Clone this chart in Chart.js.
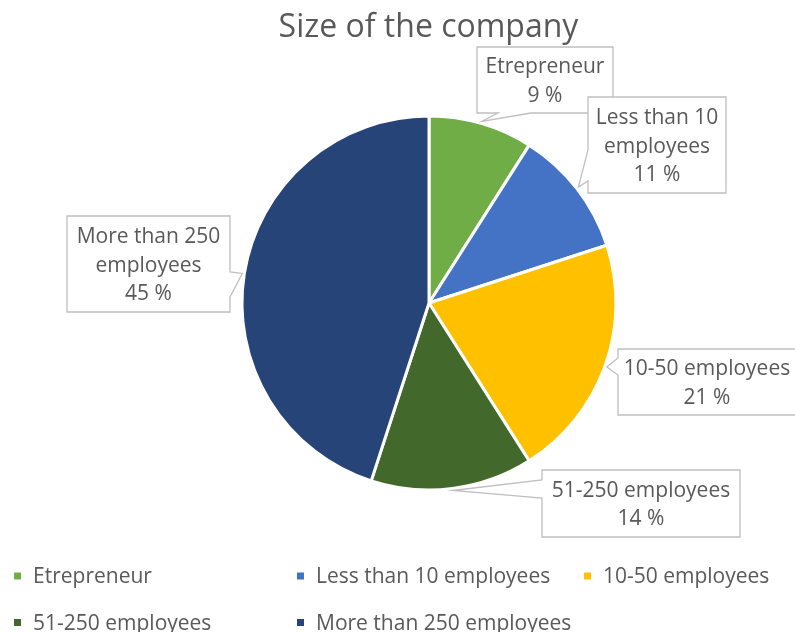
<!DOCTYPE html>
<html>
<head>
<meta charset="utf-8">
<script src="https://cdn.jsdelivr.net/npm/chart.js@4/dist/chart.umd.min.js"></script>
<style>
  html, body { margin: 0; padding: 0; background: #ffffff; }
  #wrap { width: 795px; height: 632px; }
</style>
</head>
<body>
<div id="wrap"><canvas id="pie" width="795" height="632"></canvas></div>
<script>
// Company size breakdown
const chartTitle = 'Size of the company';
const categories = ['Etrepreneur', 'Less than 10 employees', '10-50 employees', '51-250 employees', 'More than 250 employees'];
const shares = [9, 11, 21, 14, 45];
// wrapped category text used inside the callouts
const calloutText = [['Etrepreneur'], ['Less than 10', 'employees'], ['10-50 employees'], ['51-250 employees'], ['More than 250', 'employees']];

const sliceColors = ['#70AD47', '#4472C4', '#FFC000', '#43682B', '#264478'];
const textColor = '#595959';
const fontFamily = '"Open Sans", "Noto Sans", sans-serif';

// callout boxes: rectangle plus the stretch of one side where the pointer leaves it
const calloutBoxes = [
  { x: 477, y: 47,  w: 136, h: 66, side: 'bottom', from: 498, to: 531 },
  { x: 588, y: 97,  w: 138, h: 96, side: 'left',   from: 150, to: 181 },
  { x: 618, y: 349, w: 190, h: 66, side: 'left',   from: 358, to: 375 },
  { x: 542, y: 470, w: 198, h: 67, side: 'left',   from: 480, to: 498 },
  { x: 67,  y: 216, w: 163, h: 96, side: 'right',  from: 272, to: 297 }
];

// legend grid: item index -> column / row
const legendCols = [14, 297, 584];
const legendRows = [576, 622.5];
const legendCells = [[0, 0], [1, 0], [2, 0], [0, 1], [1, 1]];

const titlePlugin = {
  id: 'titleText',
  afterDraw(chart) {
    const ctx = chart.ctx;
    ctx.save();
    ctx.font = '32px ' + fontFamily;
    ctx.fillStyle = textColor;
    ctx.textAlign = 'center';
    ctx.textBaseline = 'alphabetic';
    ctx.fillText(chartTitle, 428.5, 37);
    ctx.restore();
  }
};

const calloutPlugin = {
  id: 'callouts',
  afterDatasetsDraw(chart) {
    const ctx = chart.ctx;
    const meta = chart.getDatasetMeta(0);
    const values = chart.data.datasets[0].data;
    ctx.save();
    meta.data.forEach((arc, i) => {
      const p = arc.getProps(['x', 'y', 'startAngle', 'endAngle', 'outerRadius'], true);
      const mid = (p.startAngle + p.endAngle) / 2;
      const tipR = p.outerRadius + 2;
      const tx = p.x + Math.cos(mid) * tipR;
      const ty = p.y + Math.sin(mid) * tipR;
      const b = calloutBoxes[i];
      const L = b.x, T = b.y, R = b.x + b.w, B = b.y + b.h;

      ctx.beginPath();
      ctx.moveTo(L, T);
      ctx.lineTo(R, T);
      if (b.side === 'right') {
        ctx.lineTo(R, b.from); ctx.lineTo(tx, ty); ctx.lineTo(R, b.to);
      }
      ctx.lineTo(R, B);
      if (b.side === 'bottom') {
        ctx.lineTo(b.to, B); ctx.lineTo(tx, ty); ctx.lineTo(b.from, B);
      }
      ctx.lineTo(L, B);
      if (b.side === 'left') {
        ctx.lineTo(L, b.to); ctx.lineTo(tx, ty); ctx.lineTo(L, b.from);
      }
      ctx.closePath();
      ctx.fillStyle = '#ffffff';
      ctx.fill();
      ctx.lineWidth = 1.3;
      ctx.strokeStyle = '#BFBFBF';
      ctx.stroke();

      const lines = calloutText[i].concat([values[i] + ' %']);
      const lineGap = 28.5;
      const cap = 15;
      const blockH = cap + lineGap * (lines.length - 1);
      const firstBase = T + b.h / 2 - blockH / 2 + cap;
      const cx = Math.min(L + b.w / 2, L + (chart.width - L) / 2 + 0.5);
      ctx.font = '21px ' + fontFamily;
      ctx.fillStyle = textColor;
      ctx.textAlign = 'center';
      ctx.textBaseline = 'alphabetic';
      lines.forEach((t, k) => ctx.fillText(t, cx, firstBase + k * lineGap));
    });
    ctx.restore();
  }
};

const legendPlugin = {
  id: 'gridLegend',
  afterDraw(chart) {
    const ctx = chart.ctx;
    const ds = chart.data.datasets[0];
    ctx.save();
    ctx.font = '21px ' + fontFamily;
    ctx.textAlign = 'left';
    ctx.textBaseline = 'alphabetic';
    chart.data.labels.forEach((lab, i) => {
      const [c, r] = legendCells[i];
      const mx = legendCols[c];
      const my = legendRows[r];
      ctx.fillStyle = ds.backgroundColor[i];
      ctx.fillRect(mx, my - 3.5, 7, 7);
      ctx.fillStyle = textColor;
      ctx.fillText(lab, mx + 19, my + 7);
    });
    ctx.restore();
  }
};

new Chart(document.getElementById('pie'), {
  type: 'pie',
  data: {
    labels: categories,
    datasets: [{
      data: shares,
      backgroundColor: sliceColors,
      borderColor: '#ffffff',
      borderWidth: 3
    }]
  },
  options: {
    responsive: false,
    animation: false,
    devicePixelRatio: 1,
    events: [],
    radius: 187,
    layout: { padding: { left: 63, right: 0, top: 0, bottom: 26 } },
    plugins: {
      legend: { display: false },
      title: { display: false },
      tooltip: { enabled: false }
    }
  },
  plugins: [titlePlugin, calloutPlugin, legendPlugin]
});
</script>
</body>
</html>
